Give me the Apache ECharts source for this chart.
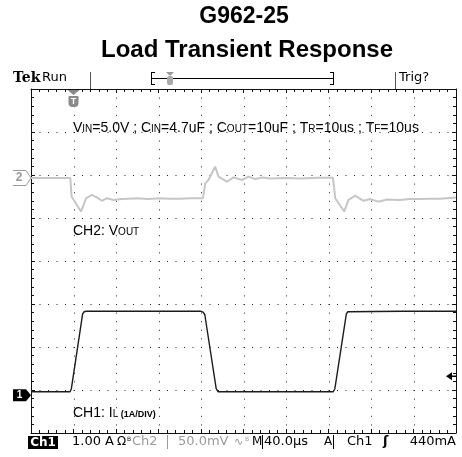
<!DOCTYPE html>
<html>
<head>
<meta charset="utf-8">
<script src="https://cdn.jsdelivr.net/npm/echarts@6/dist/echarts.min.js"></script>
<style>
  html, body { margin: 0; padding: 0; background: #fff; }
  #scope { width: 462px; height: 457px; }
</style>
</head>
<body>
<div id="scope"></div>
<script>
'use strict';

// time axis, 40us/div, 10 div
var timeMin = 0;
var timeMax = 400;
var timeStep = 40;

// CH1 inductor current (A), 1A/div
var ch1Time = [0, 36.8, 38, 48.6, 50, 52, 100, 160, 162, 163.6, 174.3, 176, 230, 284.5, 286, 296.8, 298.2, 300, 350, 400];
var ch1Amp  = [0.08, 0.08, 0.15, 1.89, 1.94, 1.95, 1.95, 1.95, 1.93, 1.87, 0.15, 0.08, 0.08, 0.08, 0.15, 1.89, 1.94, 1.95, 1.95, 1.95];

// CH2 output voltage deviation (mV), 50mV/div, AC coupled
var ch2Time = [0, 20, 37, 38.2, 47, 52, 57.3, 62, 66.7, 71.4, 77.6, 85.5, 92, 99.7, 110, 121.6, 130, 140.4, 150, 161.8,
               164, 167, 173.3, 176.5, 184.4, 190.6, 198.5, 204.7, 211, 218, 225, 240, 253.4, 270, 284.1,
               285.3, 286.3, 294.8, 298.8, 305.1, 313, 319.3, 327, 335, 347.4, 356, 366.2, 375, 385, 400];
var ch2mV   = [0, 0, 0, -21.5, -39, -23.5, -19.5, -22.5, -26.5, -23.5, -25.5, -24.5, -24, -23.5, -24.3, -23.5, -24, -24, -23.5, -23.5,
               -6.2, -2.3, 13.2, 1.6, -4.3, 0.8, -2.3, 1.6, -1.1, 0.5, -0.5, 0, -0.5, 0.3, 0.4,
               -11.5, -23.5, -39, -25.5, -20.5, -26.5, -24.5, -27.5, -24.9, -25.5, -24.5, -24.5, -24, -24, -22.8];

// channel positions on screen, in divisions above the bottom edge
var ch1Pos = 0.88;
var ch2Pos = 5.93;
var ch1Scale = 1;   // A/div
var ch2Scale = 50;  // mV/div
var divCount = 8;

var ch1Level = 0.44; // trigger level, A
var trigTime = 40;   // trigger position, us

function pairs(xs, ys) {
    var out = [];
    for (var i = 0; i < xs.length; i++) {
        out.push([xs[i], ys[i]]);
    }
    return out;
}

var chart = echarts.init(document.getElementById('scope'), null, { renderer: 'canvas' });

var edge = { show: true, onZero: false, lineStyle: { color: '#111', width: 1 } };
var tick = { show: true, inside: true, length: 4, lineStyle: { color: '#111' } };
var minor = { show: true, splitNumber: 5, length: 3, lineStyle: { color: '#111' } };
var hidden = { show: false };

var option = {
    animation: false,
    backgroundColor: '#fff',
    grid: { left: 31, right: 6, top: 89, bottom: 24 },
    xAxis: [{
        type: 'value', min: timeMin, max: timeMax, interval: timeStep, position: 'bottom',
        axisLine: edge, axisTick: tick, minorTick: minor, axisLabel: hidden, splitLine: hidden
    }, {
        type: 'value', min: timeMin, max: timeMax, interval: timeStep, position: 'top',
        axisLine: edge, axisTick: tick, minorTick: minor, axisLabel: hidden, splitLine: hidden
    }],
    yAxis: [{
        // graticule divisions
        type: 'value', min: 0, max: divCount, interval: 1, position: 'left',
        axisLine: edge, axisTick: tick, minorTick: minor, axisLabel: hidden, splitLine: hidden
    }, {
        type: 'value', min: 0, max: divCount, interval: 1, position: 'right',
        axisLine: edge, axisTick: tick, minorTick: minor, axisLabel: hidden, splitLine: hidden
    }, {
        // CH1 amps
        type: 'value', show: false, min: -ch1Pos * ch1Scale, max: (divCount - ch1Pos) * ch1Scale
    }, {
        // CH2 millivolts
        type: 'value', show: false, min: -ch2Pos * ch2Scale, max: (divCount - ch2Pos) * ch2Scale
    }],
    series: [{
        name: 'CH2', type: 'line', xAxisIndex: 0, yAxisIndex: 3,
        showSymbol: false, silent: true, z: 3,
        lineStyle: { color: '#c6c6c6', width: 2 },
        data: pairs(ch2Time, ch2mV)
    }, {
        name: 'CH1', type: 'line', xAxisIndex: 0, yAxisIndex: 2,
        showSymbol: false, silent: true, z: 4,
        lineStyle: { color: '#1c1c1c', width: 1.4 },
        data: pairs(ch1Time, ch1Amp)
    }]
};
chart.setOption(option);

// pixel positions from the axes
var gTop = chart.convertToPixel({ yAxisIndex: 0 }, divCount);
var gBot = chart.convertToPixel({ yAxisIndex: 0 }, 0);
var gLeft = chart.convertToPixel({ xAxisIndex: 0 }, timeMin);
var gRight = chart.convertToPixel({ xAxisIndex: 0 }, timeMax);
var y2 = chart.convertToPixel({ yAxisIndex: 3 }, 0);
var y1 = chart.convertToPixel({ yAxisIndex: 2 }, 0);
var yTrig = chart.convertToPixel({ yAxisIndex: 2 }, ch1Level);
var xTrig = chart.convertToPixel({ xAxisIndex: 0 }, trigTime);

var sans = 'Liberation Sans, Arial, sans-serif';
var scopeFont = 'DejaVu Sans, sans-serif';

function txt(x, y, s, size, extra) {
    var st = { text: s, x: x, y: y, font: (extra && extra.weight ? extra.weight + ' ' : '') + size + 'px ' + ((extra && extra.family) || sans),
        fill: (extra && extra.color) || '#000', verticalAlign: 'middle', align: (extra && extra.align) || 'left' };
    if (extra && extra.rich) st.rich = extra.rich;
    return { type: 'text', silent: true, z: 20, style: st };
}
function ln(x1, y1_, x2, y2_, color, w) {
    return { type: 'line', silent: true, z: 10, shape: { x1: x1, y1: y1_, x2: x2, y2: y2_ }, style: { stroke: color || '#000', lineWidth: w || 1 } };
}

// dotted graticule, one line per division
var graticule = [];
var v, p;
for (v = timeMin + timeStep; v < timeMax; v += timeStep) {
    p = Math.round(chart.convertToPixel({ xAxisIndex: 0 }, v)) + 0.5;
    graticule.push({ type: 'line', silent: true, z: 1, shape: { x1: p, y1: gTop, x2: p, y2: gBot },
        style: { stroke: '#222', lineWidth: 1, lineDash: [1, 7.6] } });
}
for (v = 1; v < divCount; v += 1) {
    p = Math.round(chart.convertToPixel({ yAxisIndex: 0 }, v)) + 0.5;
    graticule.push({ type: 'line', silent: true, z: 1, shape: { x1: gLeft, y1: p, x2: gRight, y2: p },
        style: { stroke: '#222', lineWidth: 1, lineDash: [1, 7.5] } });
}

var subRich = {
    m: { fontSize: 14, fontFamily: sans, color: '#000' },
    s: { fontSize: 10, fontFamily: sans, color: '#000', padding: [3, 0, 0, 0] },
    b: { fontSize: 9, fontFamily: sans, fontWeight: 'bold', color: '#000', padding: [3, 0, 0, 0] }
};

var yStat = 442;

var graphics = graticule.concat([
    // title
    txt(244, 17, 'G962-25', 23, { weight: 'bold', align: 'center' }),
    txt(247, 50, 'Load Transient Response', 24, { weight: 'bold', align: 'center' }),

    // top status line
    txt(13, 78, 'Tek', 14, { weight: 'bold', family: 'DejaVu Serif, serif' }),
    txt(42, 78, 'Run', 13, { family: scopeFont }),
    ln(90.5, 72, 90.5, 89, '#555'),
    ln(152, 78.5, 333, 78.5, '#000'),
    ln(151.5, 72, 151.5, 85, '#000'), ln(151.5, 72.5, 155, 72.5, '#000'), ln(151.5, 84.5, 155, 84.5, '#000'),
    ln(333.5, 72, 333.5, 85, '#000'), ln(330, 72.5, 333.5, 72.5, '#000'), ln(330, 84.5, 333.5, 84.5, '#000'),
    { type: 'polygon', silent: true, z: 11, shape: { points: [[166, 72], [174, 72], [170, 76]] }, style: { fill: '#999' } },
    { type: 'rect', silent: true, z: 11, shape: { x: 167, y: 76, width: 6, height: 9, r: 2 }, style: { fill: '#aaa' } },
    ln(395.5, 72, 395.5, 89, '#555'),
    txt(399, 78, 'Trig?', 13, { family: scopeFont }),

    // trigger position marker
    { type: 'polygon', silent: true, z: 11, shape: { points: [[xTrig - 6, 90], [xTrig + 6, 90], [xTrig, 95]] }, style: { fill: '#888' } },
    { type: 'rect', silent: true, z: 11, shape: { x: xTrig - 5, y: 96, width: 10, height: 11, r: [1, 1, 4, 4] }, style: { fill: '#8a8a8a' } },
    txt(xTrig, 101.5, 'T', 9, { weight: 'bold', color: '#fff', align: 'center' }),

    // channel 2 reference marker
    ln(13, y2 - 7.5, 26, y2 - 7.5, '#999'), ln(13, y2 + 7.5, 26, y2 + 7.5, '#999'),
    ln(26, y2 - 7.5, 31, y2, '#999'), ln(31, y2, 26, y2 + 7.5, '#999'),
    txt(19, y2, '2', 12, { weight: 'bold', color: '#999', align: 'center' }),

    // channel 1 ground marker
    { type: 'polygon', silent: true, z: 11, shape: { points: [[13, y1 - 6], [26, y1 - 6], [31, y1], [26, y1 + 6], [13, y1 + 6]] }, style: { fill: '#000' } },
    txt(19.5, y1, '1', 10, { weight: 'bold', color: '#fff', align: 'center' }),

    // trigger level arrow
    { type: 'polygon', silent: true, z: 11, shape: { points: [[446, yTrig], [452, yTrig - 4], [452, yTrig + 4]] }, style: { fill: '#000' } },
    ln(451, yTrig, 456, yTrig, '#000', 1.5),

    // annotations
    txt(73, 128, '{m|V}{s|IN}{m|=5.0V ; C}{s|IN}{m|=4.7uF ; C}{s|OUT}{m|=10uF ; T}{s|R}{m|=10us ; T}{s|F}{m|=10us}', 14, { rich: subRich }),
    txt(73, 231, '{m|CH2: V}{s|OUT}', 14, { rich: subRich }),
    txt(73, 413, '{m|CH1: I}{s|L}{b| (1A/DIV)}', 14, { rich: subRich }),

    // bottom status line
    { type: 'rect', silent: true, z: 11, shape: { x: 28, y: yStat - 6, width: 30, height: 13 }, style: { fill: '#000' } },
    txt(43, yStat + 0.5, 'Ch1', 12, { weight: 'bold', color: '#fff', align: 'center', family: scopeFont }),
    txt(72, yStat, '1.00 A', 13, { family: scopeFont }),
    txt(117, yStat, 'Ω', 12, { family: scopeFont }),
    txt(127, yStat - 2.5, 'B', 6, { family: scopeFont }),
    txt(132, yStat, 'Ch2', 13, { family: scopeFont, color: '#9a9a9a' }),
    ln(167.5, yStat - 7, 167.5, yStat + 7, '#9a9a9a'),
    txt(178, yStat, '50.0mV', 13, { family: scopeFont, color: '#9a9a9a' }),
    txt(234, yStat, '∿', 11, { family: scopeFont, color: '#9a9a9a' }),
    txt(245, yStat - 2.5, 'B', 6, { family: scopeFont, color: '#9a9a9a' }),
    txt(252, yStat, 'M', 12, { family: scopeFont }),
    ln(262.5, yStat - 7, 262.5, yStat + 7, '#000'),
    txt(264, yStat, '40.0µs', 13, { family: scopeFont }),
    txt(324, yStat, 'A', 12, { family: scopeFont }),
    ln(333.5, yStat - 7, 333.5, yStat + 7, '#000'),
    txt(347, yStat, 'Ch1', 13, { family: scopeFont }),
    txt(383, yStat, 'ʃ', 13, { family: scopeFont, weight: 'bold' }),
    txt(456, yStat, '440mA', 13, { family: scopeFont, align: 'right' })
]);

chart.setOption({ graphic: graphics });
</script>
</body>
</html>
